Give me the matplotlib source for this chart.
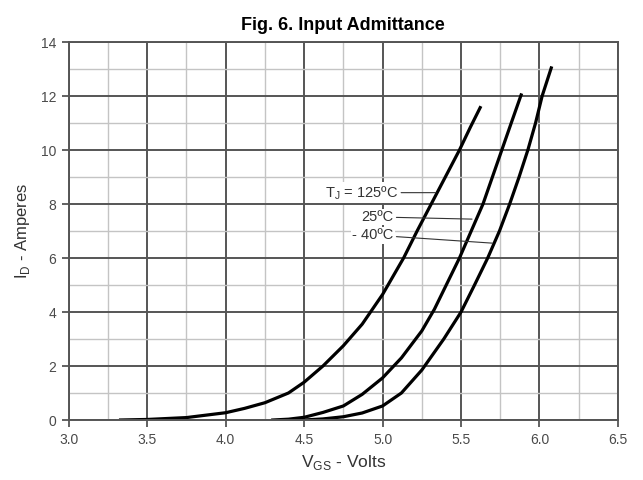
import numpy as np
import matplotlib.pyplot as plt

plt.rcParams['font.family'] = ['Liberation Sans', 'DejaVu Sans']

# curves: V_GS (V), I_D (A)
vgs_125 = [3.33, 3.5, 3.75, 4.0, 4.12, 4.25, 4.4, 4.5, 4.62, 4.75, 4.87, 5.0, 5.134, 5.22, 5.31, 5.40, 5.49, 5.56, 5.622]
id_125 = [0.0, 0.02, 0.09, 0.27, 0.43, 0.64, 1.0, 1.4, 2.0, 2.75, 3.55, 4.65, 6.0, 7.0, 8.0, 9.0, 10.0, 10.85, 11.57]

vgs_25 = [4.3, 4.4, 4.5, 4.62, 4.75, 4.87, 5.0, 5.12, 5.25, 5.33, 5.41, 5.49, 5.565, 5.64, 5.70, 5.76, 5.82, 5.883]
id_25 = [0.0, 0.03, 0.1, 0.28, 0.52, 0.95, 1.56, 2.3, 3.3, 4.1, 5.05, 6.0, 7.0, 8.0, 9.0, 10.0, 11.0, 12.04]

vgs_m40 = [4.5, 4.62, 4.75, 4.87, 5.0, 5.12, 5.25, 5.39, 5.5, 5.586, 5.67, 5.745, 5.81, 5.87, 5.926, 5.975, 6.017, 6.075]
id_m40 = [0.0, 0.04, 0.12, 0.26, 0.52, 1.0, 1.85, 3.0, 4.0, 5.0, 6.0, 7.0, 8.0, 9.0, 10.0, 11.0, 12.0, 13.04]

labels = [r'T$_\mathregular{J}$ = 125ºC', '25ºC', '- 40ºC']
label_xy = [(5.10, 8.42), (5.07, 7.52), (5.07, 6.85)]
arrow_xy = [(5.34, 8.42), (5.57, 7.44), (5.70, 6.55)]

fig = plt.figure(figsize=(6.43, 4.8), dpi=100)
ax = fig.add_axes([0.107, 0.125, 0.854, 0.7875])

ax.set_xlim(3.0, 6.5)
ax.set_ylim(0, 14)
ax.set_xticks(np.arange(3.0, 6.51, 0.5))
ax.set_yticks(np.arange(0, 14.1, 2))
ax.set_xticks(np.arange(3.0, 6.51, 0.25), minor=True)
ax.set_yticks(np.arange(0, 14.1, 1), minor=True)
ax.set_xticklabels([f"{v:.1f}" for v in np.arange(3.0, 6.51, 0.5)])

ax.grid(which='major', color='#555555', linewidth=1.4)
ax.grid(which='minor', color='#c4c4c4', linewidth=1.0)
ax.tick_params(which='major', direction='out', length=5, width=1.3, color='#555555',
               labelsize=10, labelcolor='#4a4a4a', pad=4)
ax.tick_params(which='minor', length=0)
for s in ax.spines.values():
    s.set_color('#555555')
    s.set_linewidth(1.4)
ax.set_axisbelow(True)

for v, i in [(vgs_125, id_125), (vgs_25, id_25), (vgs_m40, id_m40)]:
    ax.plot(v, i, color='black', linewidth=2.3, solid_joinstyle='round')

for lab, (tx, ty), (ax_, ay) in zip(labels, label_xy, arrow_xy):
    ax.annotate(lab, xy=(ax_, ay), xytext=(tx, ty), ha='right', va='center',
                fontsize=10.5, color='#333333',
                bbox=dict(boxstyle='square,pad=0.1', fc='white', ec='none'),
                arrowprops=dict(arrowstyle='-', color='#333333', lw=0.8,
                                shrinkA=1, shrinkB=0))

ax.set_title('Fig. 6. Input Admittance', fontsize=13, fontweight='bold', pad=9)
ax.set_xlabel(r'V$_\mathregular{GS}$ - Volts', fontsize=12.5, color='#333333', labelpad=5)
ax.set_ylabel(r'I$_\mathregular{D}$ - Amperes', fontsize=12, color='#333333', labelpad=6)

fig.savefig('out.png', dpi=100)
